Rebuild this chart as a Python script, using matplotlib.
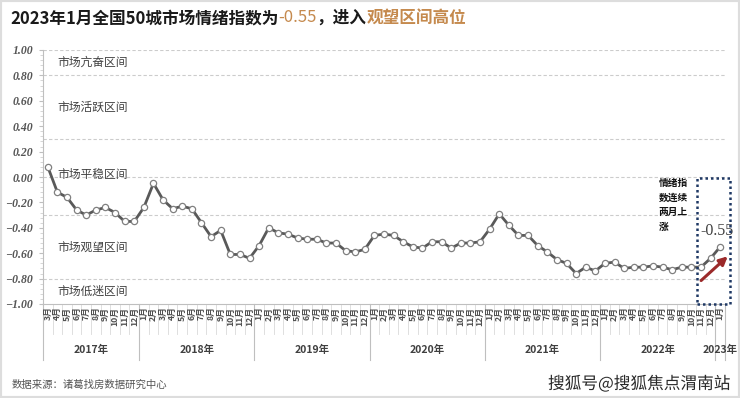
import matplotlib
matplotlib.use("Agg")
import matplotlib.pyplot as plt
import matplotlib.transforms as mtransforms
from matplotlib.patches import Rectangle, FancyArrowPatch
from matplotlib.ticker import MultipleLocator
import matplotlib.patheffects as pe

plt.rcParams['font.family'] = ['Noto Sans CJK SC', 'DejaVu Sans']

# 数据：2017年3月 - 2023年1月
years = ["2017年", "2018年", "2019年", "2020年", "2021年", "2022年", "2023年"]
months_per_year = [10, 12, 12, 12, 12, 12, 1]
month_labels = ([f"{m}月" for m in range(3, 13)]
                + [f"{m}月" for m in range(1, 13)] * 5
                + ["1月"])
values = [
    0.08, -0.12, -0.16, -0.26, -0.30, -0.26, -0.24, -0.28, -0.35, -0.35,
    -0.24, -0.05, -0.18, -0.25, -0.23, -0.25, -0.36, -0.47, -0.42, -0.61, -0.61, -0.64,
    -0.54, -0.40, -0.44, -0.45, -0.48, -0.49, -0.49, -0.52, -0.52, -0.58, -0.59, -0.57,
    -0.46, -0.45, -0.46, -0.51, -0.55, -0.56, -0.51, -0.51, -0.56, -0.52, -0.52, -0.51,
    -0.41, -0.29, -0.38, -0.46, -0.46, -0.54, -0.59, -0.65, -0.68, -0.76, -0.71, -0.74,
    -0.68, -0.67, -0.72, -0.71, -0.71, -0.70, -0.71, -0.73, -0.71, -0.71, -0.71, -0.64,
    -0.55,
]
zone_lines = [1.0, 0.8, 0.3, 0.0, -0.3, -0.8]
zone_names = ["市场亢奋区间", "市场活跃区间", "市场平稳区间", "市场观望区间", "市场低迷区间"]
zone_label_y = [0.90, 0.55, 0.02, -0.55, -0.90]
last_value = values[-1]

W, H = 740, 398
fig = plt.figure(figsize=(W / 100, H / 100), dpi=100)
fig.patch.set_facecolor("white")

def fx(px):
    return px / W

def fy(py):
    return 1 - py / H

ax = fig.add_axes([fx(43), fy(304), 682 / W, 254 / H])
x = list(range(len(values)))

for yv in zone_lines:
    ax.axhline(yv, color="#cccccc", lw=0.8, ls=(0, (3, 2)), zorder=1)

ax.plot(x, values, color="#595959", lw=2, marker="o", ms=4.5,
        mfc="white", mec="#808080", mew=0.9, zorder=3)

for name, yv in zip(zone_names, zone_label_y):
    ax.text(1.0, yv, name, fontsize=8.5, color="#404040", style="italic",
            va="center", ha="left", zorder=2)

ax.set_xlim(-0.5, len(values) - 0.5)
ax.set_ylim(-1.0, 1.0)
ax.yaxis.set_major_locator(MultipleLocator(0.2))
ax.yaxis.set_minor_locator(MultipleLocator(0.04))
ax.set_yticks([round(-1 + 0.2 * i, 2) for i in range(11)])
ax.set_yticklabels([f"{v:.2f}".replace("-", "−") for v in ax.get_yticks()],
                   family="Liberation Serif", style="italic", weight="bold",
                   fontsize=8.5, color="#555555")
ax.tick_params(axis="y", which="major", length=3, color="#bfbfbf", pad=4)
ax.tick_params(axis="y", which="minor", length=2, color="#d0d0d0")
ax.set_xticks([])
for s in ["top", "right"]:
    ax.spines[s].set_visible(False)
ax.spines["left"].set_color("#bfbfbf")
ax.spines["bottom"].set_color("#bfbfbf")

# 多级分类轴
trans = mtransforms.blended_transform_factory(ax.transData, ax.transAxes)
for i, lab in enumerate(month_labels):
    ax.text(i, -0.01, lab, rotation=90, ha="center", va="top", fontsize=6.3,
            weight="bold", color="#505050", transform=trans, clip_on=False)
    ax.plot([i + 0.5, i + 0.5], [0, -0.12], color="#d9d9d9", lw=0.6,
            transform=trans, clip_on=False)
start = -0.5
for yname, n in zip(years, months_per_year):
    ax.plot([start, start], [0, -0.22], color="#bfbfbf", lw=0.8,
            transform=trans, clip_on=False)
    ax.text(start + n / 2, -0.18, yname, ha="center", va="center", fontsize=7.5,
            weight="bold", color="#404040", transform=trans, clip_on=False)
    start += n
ax.plot([start, start], [0, -0.22], color="#bfbfbf", lw=0.8,
        transform=trans, clip_on=False)

# 标注
box = Rectangle((67.6, -1.0), 3.4, 0.99, fill=False, ec="#1f3864", lw=1.8,
                ls=(0, (1, 1.2)), clip_on=False, zorder=4)
ax.add_patch(box)
ax.text(len(values) - 1.3, last_value + 0.06, f"{last_value:.2f}",
        family="Liberation Serif", fontsize=11.5, color="#404040",
        ha="center", va="bottom", clip_on=False)
ax.add_patch(FancyArrowPatch((67.8, -0.83), (71.0, -0.61), arrowstyle="-|>",
                             mutation_scale=12, color="#9b2a2a", lw=2.2,
                             clip_on=False, zorder=5))
ax.text(63.6, -0.01, "情绪指\n数连续\n两月上\n涨", fontsize=7, weight="bold",
        color="#111111", ha="left", va="top", linespacing=1.55)

# 标题（分段着色）
renderer = fig.canvas.get_renderer()
parts = [("2023年1月全国50城市场情绪指数为", "#1a1a1a", "bold"),
         (f"{last_value:.2f}", "#c58a4e", "normal"),
         ("，进入", "#1a1a1a", "bold"),
         ("观望区间高位", "#c58a4e", "bold")]
cur = fx(10)
for txt, col, wt in parts:
    t = fig.text(cur, fy(18), txt, fontsize=12, color=col, weight=wt,
                 ha="left", va="center")
    bb = t.get_window_extent(renderer=renderer)
    cur += bb.width / W

fig.text(fx(12), fy(385), "数据来源：诸葛找房数据研究中心", fontsize=7.5,
         color="#555555", ha="left", va="center")
fig.text(fx(730), fy(384), "搜狐号@搜狐焦点渭南站", fontsize=12,
         color="#2a2a2a", ha="right", va="center",
         path_effects=[pe.withStroke(linewidth=2, foreground="white")])

fig.patches.append(Rectangle((0, 0), 1, 1, transform=fig.transFigure,
                             fill=False, ec="#dddddd", lw=3))

fig.savefig("out.png", dpi=100)
